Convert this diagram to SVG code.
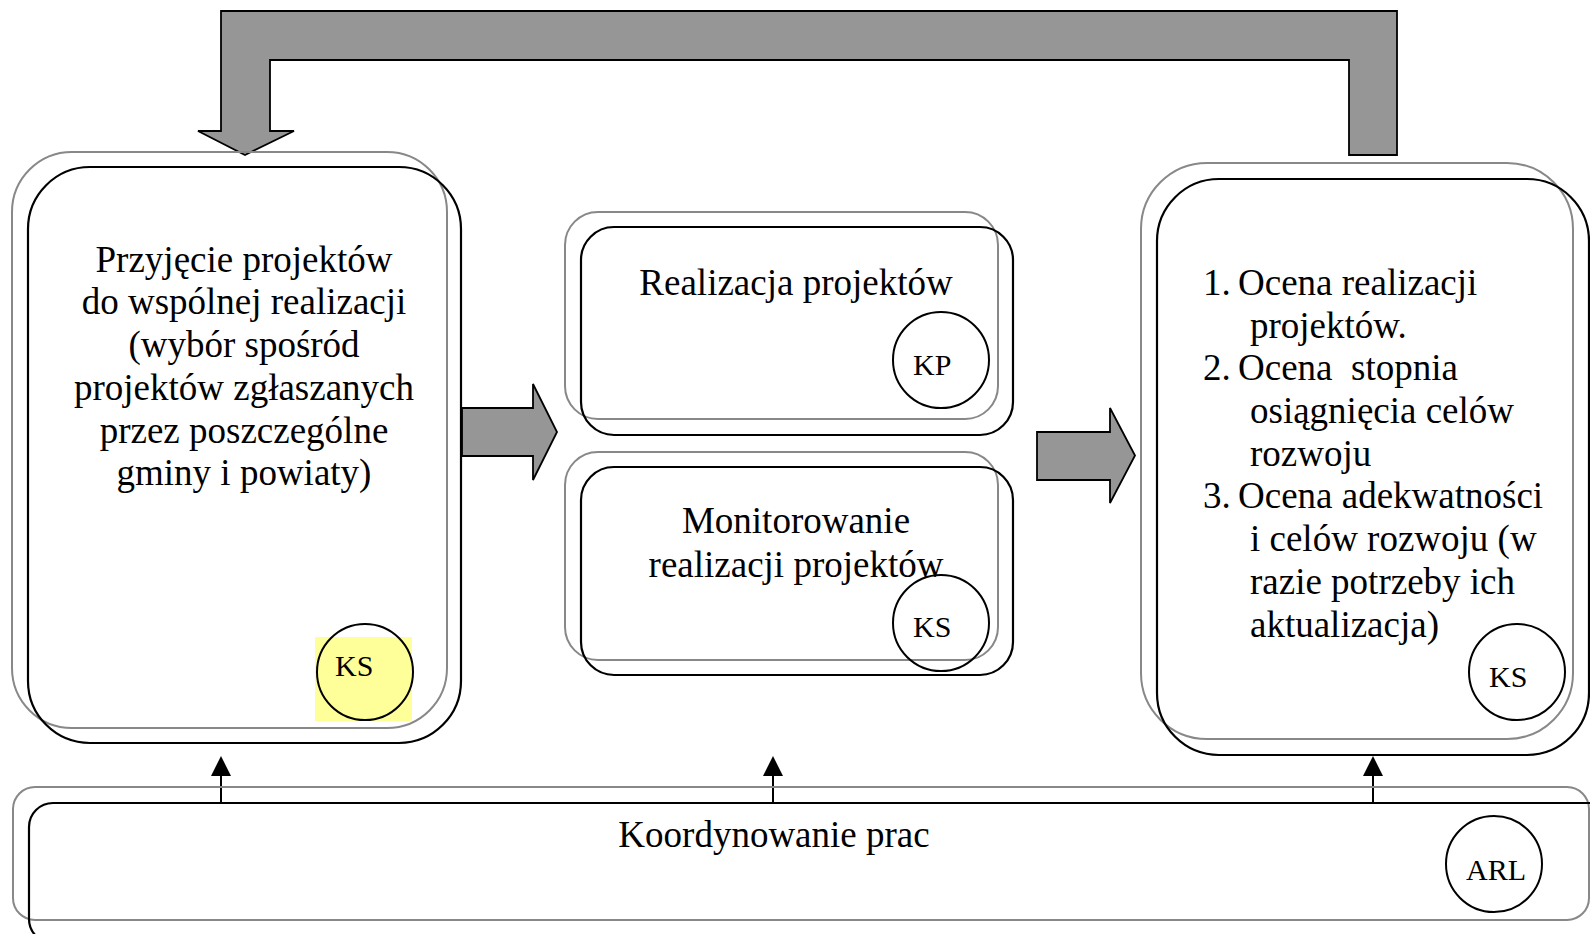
<svg xmlns="http://www.w3.org/2000/svg" width="1590" height="934" viewBox="0 0 1590 934">
<style>
.sh{fill:none;stroke:#888888;stroke-width:2}
.bx{fill:none;stroke:#000000;stroke-width:2.2}
.ci{fill:none;stroke:#000000;stroke-width:2}
.big{arrow:none;fill:#969696;stroke:#000000;stroke-width:1.8;stroke-linejoin:miter}
.t{font-family:"Liberation Serif","Times New Roman",serif;font-size:37px;fill:#000}
.s{font-family:"Liberation Serif","Times New Roman",serif;font-size:30px;fill:#000}
.c{text-anchor:middle}
.ln{stroke:#000;stroke-width:2;fill:none}
</style>
<defs>
<marker id="ah" markerWidth="20" markerHeight="20" refX="0" refY="10" orient="auto" markerUnits="userSpaceOnUse">
<path d="M0,0 L20,10 L0,20 Z" fill="#000"/>
</marker>
</defs>
<rect width="1590" height="934" fill="#ffffff"/>

<g id="connectors">
<polygon class="big" points="221,11 1397,11 1397,155 1349,155 1349,60 270,60 270,131 294,131 245,155 198,131 221,131"/>
<polygon class="big" points="462,408 533,408 533,384 557,432 533,480 533,456 462,456"/>
<polygon class="big" points="1037,432 1110,432 1110,408 1135,455.5 1110,503 1110,480 1037,480"/>
<line class="ln" x1="221" y1="803" x2="221" y2="776" marker-end="url(#ah)"/>
<line class="ln" x1="773" y1="803" x2="773" y2="776" marker-end="url(#ah)"/>
<line class="ln" x1="1373" y1="803" x2="1373" y2="776" marker-end="url(#ah)"/>
</g>

<g id="node-przyjecie">
<rect class="sh" x="12" y="152" width="435" height="576" rx="60" ry="60"/>
<rect class="bx" x="28" y="167" width="433" height="576" rx="62" ry="62"/>
<text class="t c" x="244" y="272">Przyjęcie projektów</text>
<text class="t c" x="244" y="314">do wspólnej realizacji</text>
<text class="t c" x="244" y="357">(wybór spośród</text>
<text class="t c" x="244" y="400">projektów zgłaszanych</text>
<text class="t c" x="244" y="443">przez poszczególne</text>
<text class="t c" x="244" y="485">gminy i powiaty)</text>
<rect x="315" y="637" width="97" height="84" fill="#ffff99"/>
<ellipse class="ci" cx="365" cy="672" rx="48" ry="48"/>
<text class="s" x="335" y="676">KS</text>
</g>

<g id="node-realizacja">
<rect class="sh" x="565" y="212" width="433" height="207" rx="33" ry="33"/>
<rect class="bx" x="581" y="227" width="432" height="208" rx="33" ry="33"/>
<text class="t c" x="796" y="295">Realizacja projektów</text>
<ellipse class="ci" cx="941" cy="360" rx="48" ry="48"/>
<text class="s" x="913" y="375">KP</text>
</g>

<g id="node-monitorowanie">
<rect class="sh" x="565" y="452" width="433" height="208" rx="33" ry="33"/>
<rect class="bx" x="581" y="467" width="432" height="208" rx="33" ry="33"/>
<text class="t c" x="796" y="533">Monitorowanie</text>
<text class="t c" x="796" y="577">realizacji projektów</text>
<ellipse class="ci" cx="941" cy="623" rx="48" ry="48"/>
<text class="s" x="913" y="637">KS</text>
</g>

<g id="node-ocena">
<rect class="sh" x="1141" y="163" width="432" height="576" rx="66" ry="66"/>
<rect class="bx" x="1157" y="179" width="432" height="576" rx="62" ry="62"/>
<text class="t" x="1203" y="295">1.</text>
<text class="t" x="1238" y="295">Ocena realizacji</text>
<text class="t" x="1250" y="338">projektów.</text>
<text class="t" x="1203" y="380">2.</text>
<text class="t" x="1238" y="380" xml:space="preserve">Ocena  stopnia</text>
<text class="t" x="1250" y="423">osiągnięcia celów</text>
<text class="t" x="1250" y="466">rozwoju</text>
<text class="t" x="1203" y="508">3.</text>
<text class="t" x="1238" y="508">Ocena adekwatności</text>
<text class="t" x="1250" y="551">i celów rozwoju (w</text>
<text class="t" x="1250" y="594">razie potrzeby ich</text>
<text class="t" x="1250" y="637">aktualizacja)</text>
<ellipse class="ci" cx="1517" cy="672" rx="48" ry="48"/>
<text class="s" x="1489" y="687">KS</text>
</g>

<g id="node-koordynowanie">
<rect class="sh" x="13" y="787" width="1576" height="133" rx="22" ry="22"/>
<rect class="bx" x="29" y="803" width="1590" height="140" rx="24" ry="24"/>
<text class="t c" x="774" y="847">Koordynowanie prac</text>
<ellipse class="ci" cx="1494" cy="864" rx="48" ry="48"/>
<text class="s" x="1466" y="880">ARL</text>
</g>
</svg>
